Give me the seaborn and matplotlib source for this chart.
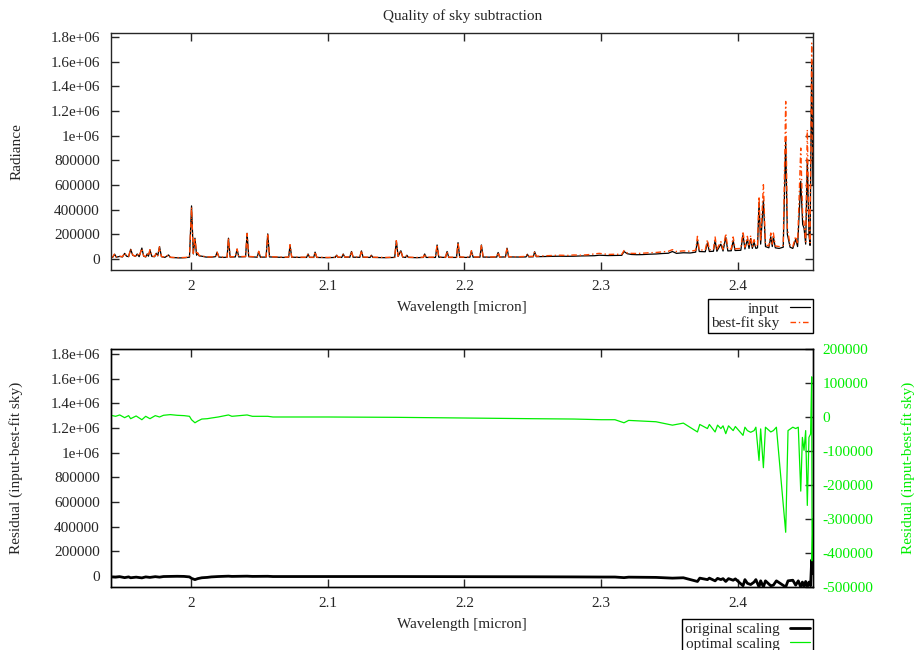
import seaborn as sns
import matplotlib.pyplot as plt
from matplotlib.ticker import FuncFormatter


# spectrum (wavelength in micron)
wl_top = [
    1.9416, 1.9430, 1.9443, 1.9455, 1.9480, 1.9500, 1.9516, 1.9530, 1.9545, 1.9560,
    1.9575, 1.9595, 1.9608, 1.9622, 1.9642, 1.9655, 1.9670, 1.9681, 1.9690, 1.9701,
    1.9715, 1.9735, 1.9747, 1.9758, 1.9771, 1.9785, 1.9810, 1.9837, 1.9850, 1.9880,
    1.9920, 1.9960, 1.9990, 2.0005, 2.0018, 2.0030, 2.0042, 2.0050, 2.0060, 2.0080,
    2.0110, 2.0150, 2.0180, 2.0192, 2.0205, 2.0240, 2.0265, 2.0275, 2.0287, 2.0325,
    2.0338, 2.0350, 2.0400, 2.0411, 2.0423, 2.0485, 2.0496, 2.0508, 2.0550, 2.0562,
    2.0575, 2.0620, 2.0680, 2.0715, 2.0725, 2.0737, 2.0800, 2.0846, 2.0857, 2.0868,
    2.0898, 2.0908, 2.0920, 2.1000, 2.1055, 2.1065, 2.1075, 2.1103, 2.1114, 2.1125,
    2.1162, 2.1174, 2.1186, 2.1235, 2.1247, 2.1259, 2.1310, 2.1320, 2.1330, 2.1420,
    2.1490, 2.1502, 2.1515, 2.1535, 2.1548, 2.1570, 2.1579, 2.1590, 2.1650, 2.1700,
    2.1709, 2.1720, 2.1788, 2.1800, 2.1812, 2.1862, 2.1873, 2.1885, 2.1942, 2.1953,
    2.1965, 2.2010, 2.2040, 2.2051, 2.2063, 2.2113, 2.2124, 2.2136, 2.2190, 2.2236,
    2.2246, 2.2257, 2.2300, 2.2311, 2.2323, 2.2400, 2.2450, 2.2460, 2.2470, 2.2503,
    2.2513, 2.2525, 2.2600, 2.2700, 2.2750, 2.2800, 2.2850, 2.2900, 2.2950, 2.2985,
    2.3050, 2.3100, 2.3150, 2.3166, 2.3190, 2.3220, 2.3260, 2.3300, 2.3350, 2.3400,
    2.3450, 2.3490, 2.3520, 2.3550, 2.3600, 2.3650, 2.3690, 2.3703, 2.3716, 2.3760,
    2.3776, 2.3790, 2.3820, 2.3832, 2.3845, 2.3874, 2.3890, 2.3910, 2.3925, 2.3950,
    2.3964, 2.3978, 2.4020, 2.4036, 2.4050, 2.4068, 2.4080, 2.4092, 2.4104, 2.4117,
    2.4130, 2.4142, 2.4153, 2.4165, 2.4185, 2.4200, 2.4225, 2.4239, 2.4250, 2.4258,
    2.4272, 2.4300, 2.4330, 2.4348, 2.4360, 2.4380, 2.4400, 2.4421, 2.4435, 2.4458,
    2.4472, 2.4482, 2.4494, 2.4506, 2.4518, 2.4526, 2.4538, 2.4547,
]
radiance_input = [
    8000, 15000, 38000, 14000, 20000, 16000, 45000, 22000, 18000, 78000,
    30000, 20000, 40000, 18000, 88000, 22000, 16000, 40000, 22000, 72000,
    20000, 18000, 46000, 25000, 100000, 18000, 12000, 32000, 12000, 10000,
    8000, 10000, 14000, 430000, 40000, 168000, 30000, 45000, 25000, 22000,
    15000, 14000, 18000, 54000, 15000, 12000, 14000, 168000, 15000, 16000,
    79000, 16000, 18000, 208000, 18000, 14000, 60000, 14000, 15000, 203000,
    16000, 14000, 12000, 14000, 113000, 14000, 12000, 12000, 40000, 12000,
    12000, 55000, 12000, 10000, 12000, 30000, 13000, 12000, 40000, 14000,
    14000, 60000, 14000, 13000, 65000, 13000, 12000, 30000, 12000, 10000,
    12000, 146000, 20000, 66000, 15000, 12000, 30000, 12000, 10000, 12000,
    40000, 12000, 12000, 113000, 14000, 12000, 60000, 12000, 12000, 132000,
    14000, 12000, 14000, 65000, 14000, 14000, 113000, 15000, 14000, 15000,
    52000, 15000, 16000, 87000, 16000, 15000, 16000, 38000, 16000, 17000,
    58000, 18000, 20000, 22000, 21000, 22000, 24000, 25000, 26000, 30000,
    27000, 28000, 29000, 60000, 42000, 36000, 34000, 35000, 38000, 40000,
    44000, 46000, 60000, 45000, 50000, 48000, 55000, 150000, 60000, 58000,
    130000, 60000, 62000, 150000, 62000, 120000, 64000, 175000, 65000, 66000,
    150000, 68000, 70000, 195000, 80000, 160000, 85000, 165000, 85000, 135000,
    85000, 90000, 454000, 120000, 475000, 100000, 90000, 180000, 100000, 180000,
    90000, 85000, 95000, 953000, 200000, 95000, 85000, 160000, 100000, 629000,
    280000, 250000, 120000, 804000, 200000, 110000, 1600000, 600000,
]
radiance_sky = [
    10000, 18000, 42000, 16000, 22000, 18000, 48000, 25000, 20000, 80000,
    32000, 22000, 42000, 20000, 85000, 24000, 18000, 45000, 24000, 75000,
    22000, 20000, 48000, 27000, 98000, 20000, 14000, 34000, 13000, 12000,
    10000, 12000, 15000, 420000, 45000, 170000, 35000, 50000, 28000, 25000,
    17000, 16000, 20000, 55000, 17000, 14000, 15000, 170000, 17000, 18000,
    80000, 18000, 20000, 205000, 20000, 16000, 62000, 16000, 17000, 205000,
    18000, 16000, 14000, 15000, 115000, 16000, 14000, 14000, 42000, 14000,
    14000, 57000, 14000, 12000, 14000, 32000, 15000, 14000, 42000, 16000,
    16000, 62000, 16000, 15000, 67000, 15000, 14000, 32000, 14000, 12000,
    14000, 148000, 22000, 68000, 17000, 14000, 32000, 14000, 12000, 14000,
    42000, 14000, 14000, 115000, 16000, 14000, 62000, 14000, 14000, 134000,
    16000, 14000, 16000, 67000, 16000, 16000, 115000, 17000, 16000, 17000,
    54000, 17000, 18000, 89000, 18000, 18000, 20000, 40000, 20000, 21000,
    60000, 22000, 26000, 30000, 28000, 32000, 30000, 34000, 40000, 45000,
    36000, 38000, 37000, 68000, 48000, 45000, 44000, 46000, 50000, 52000,
    58000, 62000, 75000, 60000, 65000, 62000, 70000, 183000, 72000, 72000,
    156000, 74000, 76000, 178000, 78000, 140000, 78000, 205000, 80000, 80000,
    178000, 82000, 85000, 224000, 95000, 183000, 100000, 189000, 100000, 156000,
    100000, 105000, 507000, 140000, 602000, 115000, 105000, 210000, 120000, 210000,
    105000, 100000, 110000, 1277000, 250000, 110000, 100000, 183000, 120000, 899000,
    350000, 294000, 140000, 1047000, 250000, 130000, 1750000, 800000,
]

# residuals
wl_bot = [
    1.9416, 1.9450, 1.9480, 1.9516, 1.9545, 1.9560, 1.9600, 1.9642, 1.9670, 1.9701,
    1.9740, 1.9771, 1.9800, 1.9850, 1.9900, 1.9950, 1.9990, 2.0005, 2.0030, 2.0050,
    2.0080, 2.0120, 2.0150, 2.0200, 2.0275, 2.0300, 2.0411, 2.0450, 2.0562, 2.0600,
    2.0800, 2.1000, 2.1500, 2.2000, 2.2500, 2.2800, 2.3000, 2.3100, 2.3166, 2.3200,
    2.3400, 2.3520, 2.3600, 2.3703, 2.3720, 2.3776, 2.3790, 2.3832, 2.3850, 2.3874,
    2.3890, 2.3910, 2.3930, 2.3964, 2.3980, 2.4036, 2.4050, 2.4068, 2.4092, 2.4117,
    2.4130, 2.4153, 2.4165, 2.4185, 2.4200, 2.4239, 2.4258, 2.4280, 2.4348, 2.4365,
    2.4400, 2.4421, 2.4440, 2.4458, 2.4470, 2.4482, 2.4494, 2.4506, 2.4518, 2.4530,
    2.4538, 2.4541, 2.4547,
]
resid_original = [
    -8000, -10000, -6000, -14000, -8000, -15000, -10000, -16000, -8000, -12000,
    -6000, -10000, -5000, -4000, -3000, -4000, -8000, -20000, -30000, -22000,
    -15000, -12000, -8000, -5000, -2000, -4000, -2000, -4000, -3000, -5000,
    -5000, -5000, -5000, -6000, -7000, -8000, -9000, -9000, -14000, -10000,
    -12000, -18000, -15000, -45000, -18000, -30000, -18000, -40000, -20000, -30000,
    -22000, -45000, -22000, -35000, -24000, -80000, -30000, -60000, -70000, -50000,
    -30000, -90000, -40000, -90000, -40000, -80000, -75000, -40000, -90000, -40000,
    -35000, -75000, -40000, -90000, -50000, -85000, -45000, -90000, -50000, -80000,
    130000, 20000, 40000,
]
resid_optimal = [
    5000, 2000, 6000, -2000, 4000, -5000, 3000, -8000, 2000, -5000,
    4000, 0, 5000, 7000, 5000, 4000, 2000, -8000, -17000, -12000,
    -6000, -5000, -3000, 0, 6000, 2000, 6000, 2000, 2000, 0,
    0, 0, -1000, -3000, -5000, -6000, -8000, -8000, -17000, -10000,
    -14000, -24000, -18000, -44000, -22000, -34000, -22000, -44000, -24000, -34000,
    -26000, -49000, -26000, -40000, -28000, -54000, -30000, -40000, -45000, -40000,
    -30000, -128000, -35000, -149000, -30000, -44000, -40000, -30000, -339000, -40000,
    -30000, -34000, -30000, -218000, -60000, -98000, -40000, -260000, -60000, -50000,
    118000, -423000, -300000,
]

sns.set_style("ticks", {"xtick.direction": "in", "ytick.direction": "in"})
plt.rcParams['font.family'] = ['Liberation Serif', 'DejaVu Serif']
plt.rcParams['font.size'] = 11
plt.rcParams['axes.linewidth'] = 1.0
plt.rcParams['xtick.major.size'] = 6
plt.rcParams['ytick.major.size'] = 6
plt.rcParams['xtick.major.width'] = 1.0
plt.rcParams['ytick.major.width'] = 1.0

fmt = FuncFormatter(lambda v, p: '%g' % v)
green = '#00ee00'

fig = plt.figure(figsize=(9.17, 6.5), dpi=100)
ax1 = fig.add_axes([0.121, 0.5846, 0.7655, 0.3646])
ax2 = fig.add_axes([0.121, 0.0969, 0.7655, 0.3662])
ax3 = ax2.twinx()

# top panel
sns.lineplot(x=wl_top, y=radiance_input, ax=ax1, color='black', linewidth=0.9,
             label='input', sort=False, estimator=None, legend=False)
sns.lineplot(x=wl_top, y=radiance_sky, ax=ax1, color='#ff4500', linewidth=1.0,
             linestyle=(0, (4, 2, 1, 2)), label='best-fit sky', sort=False,
             estimator=None, legend=False)
ax1.set_xlim(1.9416, 2.4547)
ax1.set_ylim(-90000, 1.832e6)
ax1.set_yticks([0, 2e5, 4e5, 6e5, 8e5, 1e6, 1.2e6, 1.4e6, 1.6e6, 1.8e6])
ax1.set_xticks([2.0, 2.1, 2.2, 2.3, 2.4])
ax1.xaxis.set_major_formatter(fmt)
ax1.yaxis.set_major_formatter(fmt)
ax1.tick_params(top=True, right=True, pad=7)
ax1.tick_params(axis='y', pad=8)
ax1.set_xlabel('Wavelength [micron]', labelpad=6)
ax1.set_ylabel('Radiance')
ax1.yaxis.set_label_coords(-0.125, 0.5)
leg1 = ax1.legend(loc='upper right', bbox_to_anchor=(1.0, -0.122), borderaxespad=0,
                  markerfirst=False, handlelength=1.3, handletextpad=0.7,
                  borderpad=0.2, labelspacing=0.05, fancybox=False, framealpha=1,
                  edgecolor='black')
leg1.get_frame().set_linewidth(1.0)
for t in leg1.get_texts():
    t.set_ha('right')

# bottom panel
sns.lineplot(x=wl_bot, y=resid_original, ax=ax2, color='black', linewidth=2.0,
             label='original scaling', sort=False, estimator=None, legend=False)
sns.lineplot(x=wl_bot, y=resid_optimal, ax=ax3, color=green, linewidth=0.9,
             label='optimal scaling', sort=False, estimator=None, legend=False)
ax2.set_xlim(1.9416, 2.4547)
ax2.set_ylim(-90000, 1.84e6)
ax3.set_ylim(-500000, 200000)
ax2.set_yticks([0, 2e5, 4e5, 6e5, 8e5, 1e6, 1.2e6, 1.4e6, 1.6e6, 1.8e6])
ax3.set_yticks([-500000, -400000, -300000, -200000, -100000, 0, 100000, 200000])
ax2.set_xticks([2.0, 2.1, 2.2, 2.3, 2.4])
ax2.xaxis.set_major_formatter(fmt)
ax2.yaxis.set_major_formatter(fmt)
ax3.yaxis.set_major_formatter(fmt)
ax2.tick_params(top=True, right=False, pad=7)
ax2.tick_params(axis='y', pad=8)
ax3.tick_params(axis='y', direction='in', pad=7, labelcolor=green)
ax2.set_xlabel('Wavelength [micron]', labelpad=6)
ax2.set_ylabel('Residual (input-best-fit sky)')
ax2.yaxis.set_label_coords(-0.125, 0.5)
ax3.set_ylabel('Residual (input-best-fit sky)', color=green)
ax3.yaxis.set_label_coords(1.125, 0.5)
for sp in ax3.spines.values():
    sp.set_color('black')

h1, l1 = ax2.get_legend_handles_labels()
h2, l2 = ax3.get_legend_handles_labels()
leg2 = ax3.legend(h1 + h2, l1 + l2, loc='upper right', bbox_to_anchor=(1.0, -0.136),
                  borderaxespad=0, markerfirst=False, handlelength=1.3,
                  handletextpad=0.7, borderpad=0.2, labelspacing=0.05,
                  fancybox=False, framealpha=1, edgecolor='black')
leg2.get_frame().set_linewidth(1.0)

fig.text(0.504, 1 - 16 / 650, 'Quality of sky subtraction', ha='center', va='center')

fig.savefig('out.png', dpi=100)
